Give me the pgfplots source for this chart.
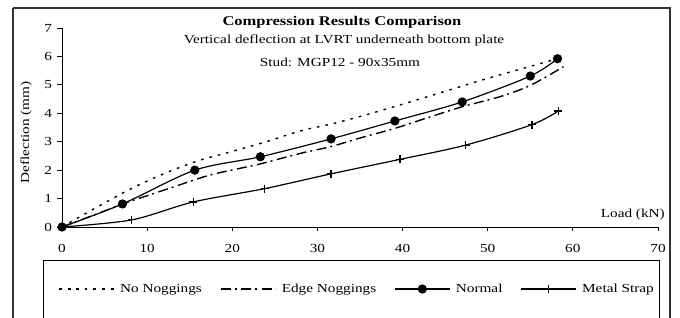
\documentclass[border=0pt]{standalone}
\usepackage{fontspec}
\setmainfont{Liberation Serif}[FakeStretch=1.24]
\usepackage{pgfplots}
\pgfplotsset{compat=1.18}
\begin{document}
\begin{tikzpicture}[font=\fontsize{12.3bp}{14bp}\selectfont]
\useasboundingbox (0,0) rectangle (680bp,318bp);
\fill[white] (0,0) rectangle (680bp,318bp);
\begin{axis}[
  scale only axis, width=596bp, height=199bp,
  at={(62bp,91bp)}, anchor=south west,
  xmin=0, xmax=70, ymin=0, ymax=7,
  axis x line*=bottom, axis y line*=left,
  axis line style={-, black, line width=0.9bp},
  xtick={0,10,...,70}, ytick={0,1,...,7},
  tick align=outside, major tick length=4.5bp,
  tick style={black, line width=0.8bp},
  xticklabel style={yshift=-9bp},
  yticklabel style={xshift=-2bp},
  /pgf/number format/assume math mode=true,
  clip=false,
  legend columns=4,
  legend style={draw=none, fill=none, at={(axis description cs:-0.0067,-0.3116)}, anchor=west, inner sep=0pt,
    /tikz/every odd column/.append style={column sep=3.5bp},
    /tikz/every even column/.append style={column sep=16bp}},
  legend image code/.code={\draw[mark repeat=2,mark phase=2,#1] plot coordinates {(0bp,0bp) (27.5bp,0bp) (55bp,0bp)};},
]
\addplot[black, line width=1.4bp, dash pattern=on 2.6bp off 6bp, smooth] coordinates {
(0,0) (4,0.68) (8,1.33) (12,1.88) (16,2.33) (20,2.66) (24,3.0) (28,3.38) (32,3.65) (36,3.97) (40,4.32) (44,4.68) (48,5.05) (52,5.40) (55,5.65) (58.2,5.92)};
\addlegendentry{No Noggings}
\addplot[black, line width=1.4bp, dash pattern=on 10bp off 4bp on 2bp off 4.5bp, smooth] coordinates {
(0,0) (4,0.45) (7.5,0.85) (10.3,1.13) (14,1.5) (17.4,1.83) (21,2.07) (23.3,2.22) (28,2.59) (31.6,2.83) (35,3.13) (39.1,3.47) (43,3.85) (47,4.23) (51.4,4.58) (55,4.98) (58.9,5.64)};
\addlegendentry{Edge Noggings}
\addplot[black, line width=1.2bp, smooth, mark=*, mark size=4bp, mark options={solid}] coordinates {
(0,0) (7.1,0.81) (15.6,2.0) (23.3,2.47) (31.6,3.10) (39.1,3.73) (47.0,4.40) (55.0,5.31) (58.2,5.92)};
\addlegendentry{Normal}
\addplot[black, line width=1.2bp, smooth, mark=+, mark size=4bp, mark options={solid, line width=1.2bp}] coordinates {
(0,0) (8.2,0.25) (15.4,0.88) (23.8,1.35) (31.6,1.87) (39.7,2.38) (47.4,2.88) (55.2,3.60) (58.3,4.08)};
\addlegendentry{Metal Strap}
\end{axis}
% frames
\draw[black!80, line width=1.8bp] (13bp,310bp) -- (13bp,-10bp);
\draw[black!80, line width=1.8bp] (13bp,310bp) -- (670bp,310bp) -- (670bp,-10bp);
\draw[black, line width=1bp] (43bp,-10bp) -- (43bp,57bp) -- (659bp,57bp) -- (659bp,-10bp);
% titles
\node[anchor=base, font=\fontsize{13.3bp}{15bp}\selectfont\bfseries] at (342bp,292bp) {Compression Results Comparison};
\node[anchor=base] at (344bp,274bp) {Vertical deflection at LVRT underneath bottom plate};
\node[anchor=base] at (340bp,251.3bp) {Stud: MGP12 - 90x35mm};
\node[anchor=base east, inner sep=0pt] at (665bp,100.3bp) {Load (kN)};
\node[rotate=90, inner sep=0pt] at (26bp,185.5bp) {Deflection (mm)};
\end{tikzpicture}
\end{document}
